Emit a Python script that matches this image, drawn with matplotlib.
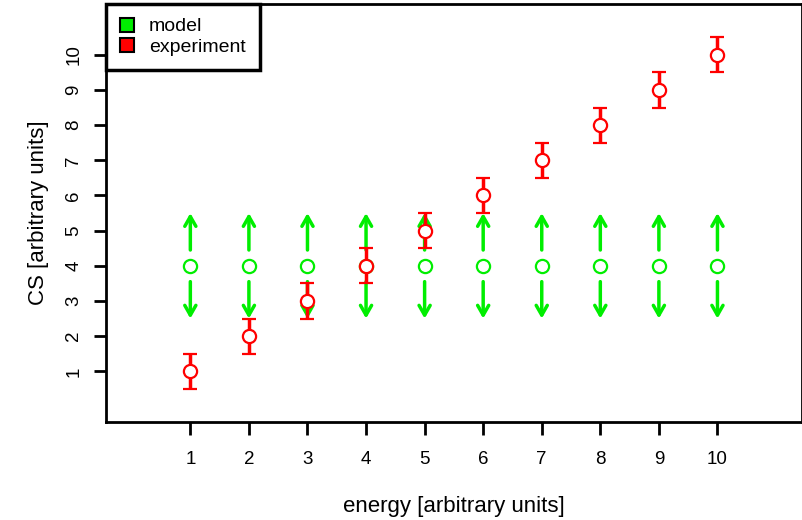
import matplotlib.pyplot as plt
from matplotlib.patches import Patch

plt.rcParams['font.family'] = ['Liberation Sans', 'DejaVu Sans']

# energy points and cross sections
energy = [1, 2, 3, 4, 5, 6, 7, 8, 9, 10]
cs_model = [4, 4, 4, 4, 4, 4, 4, 4, 4, 4]
cs_model_lo = [2.5, 2.5, 2.5, 2.5, 2.5, 2.5, 2.5, 2.5, 2.5, 2.5]
cs_model_hi = [5.5, 5.5, 5.5, 5.5, 5.5, 5.5, 5.5, 5.5, 5.5, 5.5]
cs_exp = [1, 2, 3, 4, 5, 6, 7, 8, 9, 10]
cs_exp_err = [0.5, 0.5, 0.5, 0.5, 0.5, 0.5, 0.5, 0.5, 0.5, 0.5]

green = '#00ee00'
red = '#ff0000'

fig = plt.figure(figsize=(8.03, 5.2), dpi=100)
ax = fig.add_axes([0.132, 0.1885, 0.8665, 0.8035])

# model: point with arrows pointing to the band limits
gap = 0.45
astyle = '->,head_length=0.7,head_width=0.4'
for x, y, lo, hi in zip(energy, cs_model, cs_model_lo, cs_model_hi):
    ax.annotate('', xy=(x, hi), xytext=(x, y + gap),
                arrowprops=dict(arrowstyle=astyle, color=green, lw=2.5,
                                shrinkA=0, shrinkB=0))
    ax.annotate('', xy=(x, lo), xytext=(x, y - gap),
                arrowprops=dict(arrowstyle=astyle, color=green, lw=2.5,
                                shrinkA=0, shrinkB=0))
ax.plot(energy, cs_model, 'o', ms=9.5, mfc='white', mec=green, mew=1.6,
        linestyle='none', zorder=3)

# experiment with error bars
ax.errorbar(energy, cs_exp, yerr=cs_exp_err, fmt='o', ms=9.5, mfc='white',
            mec=red, mew=1.6, ecolor=red, elinewidth=2.5, capsize=5,
            capthick=2.5, zorder=4)

ax.set_xlim(-0.44, 11.44)
ax.set_ylim(-0.44, 11.44)
ax.set_xticks(energy)
ax.set_yticks(range(1, 11))
ax.tick_params(axis='both', width=2, length=9, labelsize=13.5, colors='black')
ax.tick_params(axis='x', pad=12)
ax.tick_params(axis='y', pad=8)
for lab in ax.get_yticklabels():
    lab.set_rotation(90)
    lab.set_va('center')
for sp in ax.spines.values():
    sp.set_linewidth(2)

ax.set_xlabel('energy [arbitrary units]', fontsize=16, labelpad=20)
ax.set_ylabel('CS [arbitrary units]', fontsize=16, labelpad=12)

handles = [Patch(facecolor=green, edgecolor='black', linewidth=1.5, label='model'),
           Patch(facecolor=red, edgecolor='black', linewidth=1.5, label='experiment')]
leg = ax.legend(handles=handles, loc='upper left', bbox_to_anchor=(0, 1),
                fontsize=14, fancybox=False, framealpha=1, borderaxespad=0,
                handlelength=0.72, handleheight=0.72, handletextpad=0.8,
                borderpad=0.7, labelspacing=0.15)
leg.get_frame().set_edgecolor('black')
leg.get_frame().set_linewidth(2.5)

fig.savefig('out.png', dpi=100)
